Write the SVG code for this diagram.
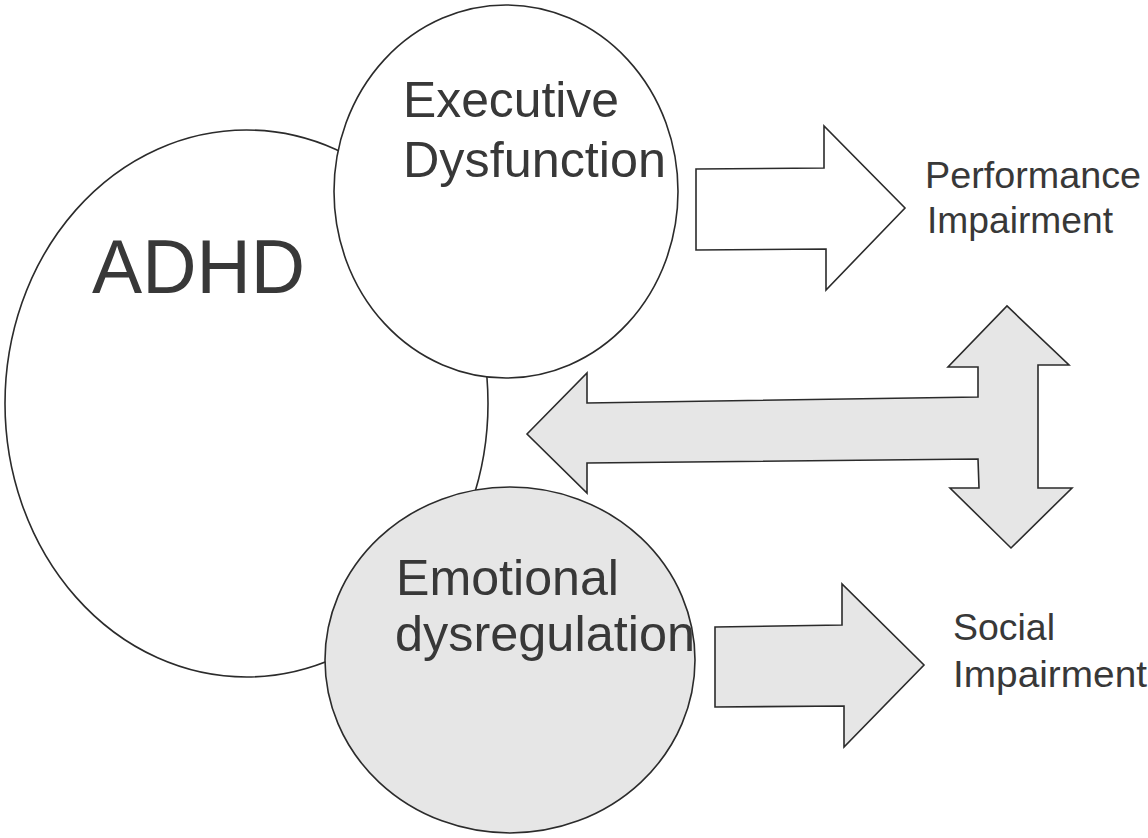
<svg xmlns="http://www.w3.org/2000/svg" width="1148" height="838" viewBox="0 0 1148 838">
  <style>
    .shape { stroke: #2b2b2b; stroke-width: 1.6; stroke-linejoin: miter; }
    .white { fill: #ffffff; }
    .gray { fill: #e6e6e6; }
    .label { font-family: "Liberation Sans", Arial, sans-serif; fill: #383838; }
  </style>
  <rect x="0" y="0" width="1148" height="838" fill="#ffffff"/>

  <g id="adhd">
    <ellipse class="shape white" cx="246.5" cy="403.5" rx="241.5" ry="273.5"/>
    <text class="label" x="92" y="293" font-size="76" textLength="213" lengthAdjust="spacingAndGlyphs">ADHD</text>
  </g>

  <g id="executive-dysfunction">
    <ellipse class="shape white" cx="506" cy="191.5" rx="172" ry="186.5"/>
    <text class="label" x="403" y="117" font-size="50" textLength="216" lengthAdjust="spacingAndGlyphs">Executive</text>
    <text class="label" x="403" y="177" font-size="50" textLength="263" lengthAdjust="spacingAndGlyphs">Dysfunction</text>
  </g>

  <g id="emotional-dysregulation">
    <ellipse class="shape gray" cx="510" cy="660" rx="185" ry="173"/>
    <text class="label" x="396" y="595" font-size="50" textLength="223" lengthAdjust="spacingAndGlyphs">Emotional</text>
    <text class="label" x="395" y="651" font-size="50" textLength="300" lengthAdjust="spacingAndGlyphs">dysregulation</text>
  </g>

  <g id="connectors">
    <path class="shape white" d="M696 169 L824 168 L824 126 L905 208 L826 290 L826 249 L696 250 Z"/>
    <path class="shape gray" d="M527 434 L587 373 L587 403 L978 397 L978 367 L948 367 L1007 306 L1069 365 L1038 365 L1038 488 L1072 488 L1011 548 L950 488 L979 488 L978 459 L587 463 L587 493 Z"/>
    <path class="shape gray" d="M715 627 L842 625 L842 584 L924 665 L844 747 L844 706 L715 707 Z"/>
  </g>

  <g id="performance-impairment">
    <text class="label" x="925" y="188" font-size="37" textLength="216" lengthAdjust="spacingAndGlyphs">Performance</text>
    <text class="label" x="927" y="233" font-size="37" textLength="186" lengthAdjust="spacingAndGlyphs">Impairment</text>
  </g>

  <g id="social-impairment">
    <text class="label" x="953" y="640" font-size="37" textLength="102" lengthAdjust="spacingAndGlyphs">Social</text>
    <text class="label" x="953" y="687" font-size="37" textLength="194" lengthAdjust="spacingAndGlyphs">Impairment</text>
  </g>
</svg>
